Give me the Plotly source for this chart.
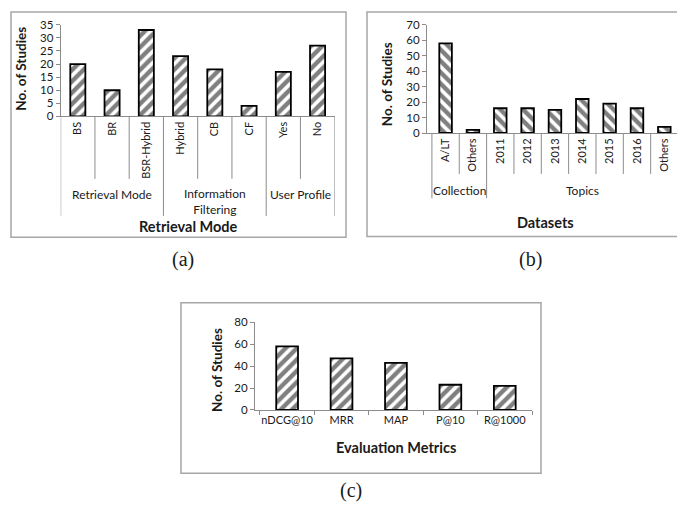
import plotly.graph_objects as go

# ---------------- data ----------------
a_categories = ["BS", "BR", "BSR-Hybrid", "Hybrid", "CB", "CF", "Yes", "No"]
a_values = [20, 10, 33, 23, 18, 4, 17, 27]
a_groups = ["Retrieval Mode", "Information<br>Filtering", "User Profile"]
a_group_sizes = [3, 3, 2]
a_title = "Retrieval Mode"

b_categories = ["A/LT", "Others", "2011", "2012", "2013", "2014", "2015", "2016", "Others"]
b_values = [58, 2, 16, 16, 15, 22, 19, 16, 4]
b_groups = ["Collection", "Topics"]
b_group_sizes = [2, 7]
b_title = "Datasets"

c_categories = ["nDCG@10", "MRR", "MAP", "P@10", "R@1000"]
c_values = [58, 47, 43, 23, 22]
c_title = "Evaluation Metrics"

y_title = "No. of Studies"
captions = ["(a)", "(b)", "(c)"]

# ---------------- layout helpers ----------------
W, H = 685, 525
def fx(p): return p / W
def fy(p): return 1 - p / H

FONT = "Lato, 'Open Sans', sans-serif"
AXC = "#8c8c8c"
BOXC = "#a6a6a6"
TXT = "#1a1a1a"

fig = go.Figure()

def bar_trace(cats, vals, xa, ya, shape, width):
    return go.Bar(
        x=list(range(len(cats))), y=vals, xaxis=xa, yaxis=ya, width=width,
        marker=dict(color="white", line=dict(color="black", width=1.8),
                    pattern=dict(shape=shape, fgcolor="black", bgcolor="white",
                                 size=8, solidity=0.55)),
        showlegend=False, hoverinfo="x+y")

fig.add_trace(bar_trace(a_categories, a_values, "x", "y", "/", 0.44))
fig.add_trace(bar_trace(b_categories, b_values, "x2", "y2", "\\", 0.46))
fig.add_trace(bar_trace(c_categories, c_values, "x3", "y3", "/", 0.40))

def yax(dom_top, dom_bot, rng, dtick, anchor):
    return dict(domain=[fy(dom_bot), fy(dom_top)], range=rng, dtick=dtick, anchor=anchor,
                showline=True, linecolor=AXC, linewidth=1, ticks="outside",
                ticklen=4, tickcolor=AXC, showgrid=False, zeroline=False,
                tickfont=dict(family=FONT, size=11.5, color=TXT), fixedrange=True)

def xax(left, right, rng, cats, anchor, angle):
    return dict(domain=[fx(left), fx(right)], range=rng, anchor=anchor,
                tickmode="array", tickvals=list(range(len(cats))), ticktext=cats,
                tickangle=angle, ticks="", showline=True, linecolor=AXC, linewidth=1,
                showgrid=False, zeroline=False,
                tickfont=dict(family=FONT, size=11, color=TXT), fixedrange=True)

fig.update_layout(
    width=W, height=H, margin=dict(l=0, r=0, t=0, b=0),
    paper_bgcolor="white", plot_bgcolor="white",
    xaxis=xax(52.7, 326.7, [-0.5, len(a_categories) - 0.5], a_categories, "y", -90),
    yaxis=yax(10, 104, [0, 35], 5, "x"),
    xaxis2=xax(419, 670, [-0.68, len(b_categories) - 0.5], b_categories, "y2", -90),
    yaxis2=yax(10, 121, [0, 70], 10, "x2"),
    xaxis3=xax(247, 524, [-0.59, len(c_categories) - 0.5], c_categories, "y3", 0),
    yaxis3=yax(315, 405, [0, 80], 20, "x3"),
)
fig.layout.xaxis3.minor = dict(tickvals=[i - 0.5 for i in range(len(c_categories) + 1)],
                               ticks="outside", ticklen=4, tickcolor=AXC)

shapes = []
annotations = []

def dividers(xref, cats, sizes, groups, axis_y, inner_bot, outer_bot, label_mid, font_size):
    bounds = [0]
    for s in sizes:
        bounds.append(bounds[-1] + s)
    for i in range(len(cats) + 1):
        bot = outer_bot if i in bounds else inner_bot
        shapes.append(dict(type="line", xref=xref, yref="paper",
                           x0=i - 0.5, x1=i - 0.5, y0=fy(axis_y), y1=fy(bot),
                           line=dict(color=AXC, width=1)))
    for g, s, b0 in zip(groups, sizes, bounds[:-1]):
        nl = g.count("<br>")
        annotations.append(dict(xref=xref, yref="paper", x=b0 + (s - 1) / 2,
                                y=fy(label_mid + nl * 7.5),
                                text=g, showarrow=False, xanchor="center", yanchor="middle",
                                font=dict(family=FONT, size=font_size, color=TXT)))

dividers("x", a_categories, a_group_sizes, a_groups, 104, 168, 206, 184, 12)
dividers("x2", b_categories, b_group_sizes, b_groups, 121, 163, 188, 180, 12)

def text(x, y, s, size, bold=False, angle=0, family=FONT):
    annotations.append(dict(xref="paper", yref="paper", x=fx(x), y=fy(y),
                            text=f"<b>{s}</b>" if bold else s, showarrow=False,
                            xanchor="center", yanchor="middle", textangle=angle,
                            font=dict(family=family, size=size, color=TXT)))

# axis titles
text(180, 217, a_title, 14.5, bold=True)
text(537, 213, b_title, 14.5, bold=True)
text(388, 443, c_title, 14.5, bold=True)
text(13, 55, y_title, 13.5, bold=True, angle=-90)
text(379, 71, y_title, 13.5, bold=True, angle=-90)
text(209, 364, y_title, 13.5, bold=True, angle=-90)

# captions
SERIF = "'Liberation Serif', 'Times New Roman', serif"
text(175, 251, captions[0], 20, family=SERIF)
text(522, 251, captions[1], 20, family=SERIF)
text(343, 488, captions[2], 20, family=SERIF)

# panel boxes
for (x0, y0, x1, y1) in [(3, -3, 338, 228), (359, -3, 683, 227), (173, 295, 533, 470)]:
    shapes.append(dict(type="rect", xref="paper", yref="paper",
                       x0=fx(x0), x1=fx(x1), y0=fy(y1), y1=fy(y0),
                       line=dict(color=BOXC, width=1.5), layer="below"))

fig.update_layout(shapes=shapes, annotations=annotations)
fig.write_html("out.html")
